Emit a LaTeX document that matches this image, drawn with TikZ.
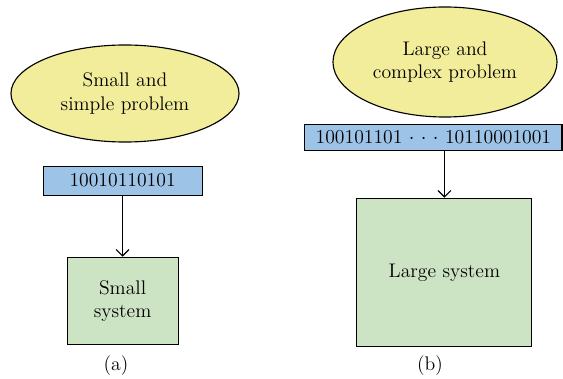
\documentclass[tikz,border=0pt]{standalone}
\usepackage{tikz}
\usetikzlibrary{arrows.meta, positioning, shapes.geometric}

\definecolor{probyellow}{RGB}{242,237,154}
\definecolor{bitsblue}{RGB}{157,195,230}
\definecolor{sysgreen}{RGB}{205,228,196}

\begin{document}
\begin{tikzpicture}[>={Straight Barb[length=1.6mm, width=3.2mm]},
    x=0.025cm, y=-0.025cm, line width=0.8pt,
    font=\fontsize{14}{16.5}\selectfont,
    prob/.style={draw, ellipse, fill=probyellow, align=center},
    bits/.style={draw, rectangle, fill=bitsblue, inner sep=0pt},
    sys/.style={draw, rectangle, fill=sysgreen, align=center}]
  \useasboundingbox (0,0) rectangle (563,379);

  % (a) small problem
  \node[prob, minimum width=5.7cm, minimum height=2.425cm] (sprob) at (125,93.5)
    {Small and\\simple problem};
  \node[bits, minimum width=3.975cm, minimum height=0.725cm,
        below=0.575cm of sprob, xshift=-0.06cm] (sbits) {10010110101};
  \node[sys, minimum width=2.775cm, minimum height=2.175cm,
        below=1.525cm of sbits] (ssys) {Small\\system};

  \draw[->] (sbits) -- (ssys);

  % (b) large problem
  \node[prob, minimum width=5.6cm, minimum height=2.75cm] (lprob) at (445,62)
    {Large and\\complex problem};
  \node[bits, minimum width=6.425cm, minimum height=0.65cm,
        below=0.15cm of lprob, xshift=-0.29cm] (lbits)
    {100101101 $\cdot$ $\cdot$ $\cdot$ 10110001001};
  \node[sys, minimum width=4.375cm, minimum height=3.7cm,
        below=1.175cm of lbits, xshift=0.275cm] (lsys) {Large system};

  \draw[->] (lbits.south -| lsys.north) -- (lsys.north);

  % Captions
  \node (capa) at (116,366) {(a)};
  \node (capb) at (430,366) {(b)};
\end{tikzpicture}
\end{document}
